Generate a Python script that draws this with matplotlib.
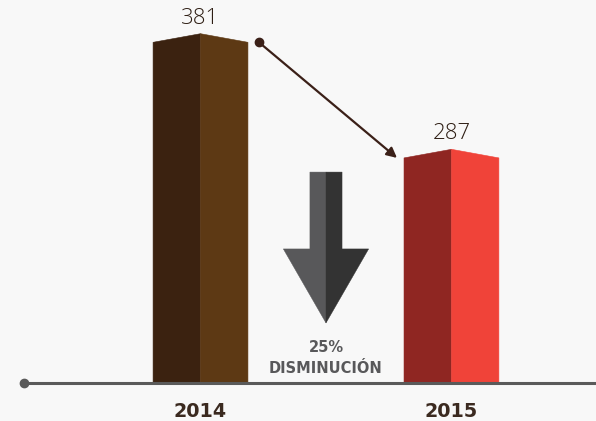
import matplotlib.pyplot as plt

# Data
years = ['2014', '2015']
values = [381, 287]
change_pct = 25
change_label = 'DISMINUCIÓN'

left_colors = ['#3b2210', '#8f2622']
right_colors = ['#5d3914', '#f04339']
bg = '#f8f8f8'
text_col = '#3b2a20'

fig = plt.figure(figsize=(5.96, 4.21), dpi=100, facecolor=bg)
ax = fig.add_axes([0, 0, 1, 1])
ax.set_facecolor(bg)
ax.set_xlim(-0.799, 1.576)
ax.set_ylim(73.1, 415.4)
ax.axis('off')

base = 104      # where the floor line sits
width = 0.378
peak = 7        # height of the pointed top

for i, v in enumerate(values):
    xl, xr = i - width / 2, i + width / 2
    ax.fill([xl, i, i, xl], [base, base, v + peak, v], fc=left_colors[i],
            ec=left_colors[i], lw=0.4)
    ax.fill([i, xr, xr, i], [base, base, v, v + peak], fc=right_colors[i],
            ec=right_colors[i], lw=0.4)
    ax.text(i, v + peak + 8, str(v), ha='center', va='baseline',
            fontsize=16, color='#2e1e14', family='Open Sans', fontweight='light')
    ax.text(i, 76.4, years[i], ha='center', va='baseline',
            fontsize=13.8, color=text_col, family='DejaVu Sans', fontweight='bold')

# floor line
ax.plot([-0.703, 1.576], [base, base], color='#5a5a5a', lw=2.2,
        solid_capstyle='butt', zorder=1)
ax.plot([-0.703], [base], 'o', color='#5a5a5a', ms=6)

# diagonal arrow between the bar tops
x0, x1 = width / 2 + 0.044, 1 - width / 2 - 0.028
ax.plot([x0], [values[0]], 'o', color='#3b2018', ms=6)
ax.annotate('', xy=(x1, values[1]), xytext=(x0, values[0]),
            arrowprops=dict(arrowstyle='-|>', color='#3b2018', lw=1.6,
                            mutation_scale=15, shrinkA=0, shrinkB=0))

# big down arrow
cx = 0.5
sw, hw = 0.064, 0.17
top, neck, tip = 275.5, 213, 152.8
ax.fill([cx - sw, cx, cx, cx - hw, cx - sw], [top, top, tip, neck, neck],
        fc='#58585a', ec='#58585a', lw=0.3)
ax.fill([cx, cx + sw, cx + sw, cx + hw, cx], [top, top, neck, neck, tip],
        fc='#333333', ec='#333333', lw=0.3)

ax.text(cx, 129.2, f'{change_pct}%', ha='center', va='baseline', fontsize=10.5,
        color='#58585a', family='DejaVu Sans', fontweight='bold')
ax.text(cx, 112.1, change_label, ha='center', va='baseline', fontsize=10.5,
        color='#58585a', family='DejaVu Sans', fontweight='bold')

fig.savefig('out.png', dpi=100, facecolor=bg)
